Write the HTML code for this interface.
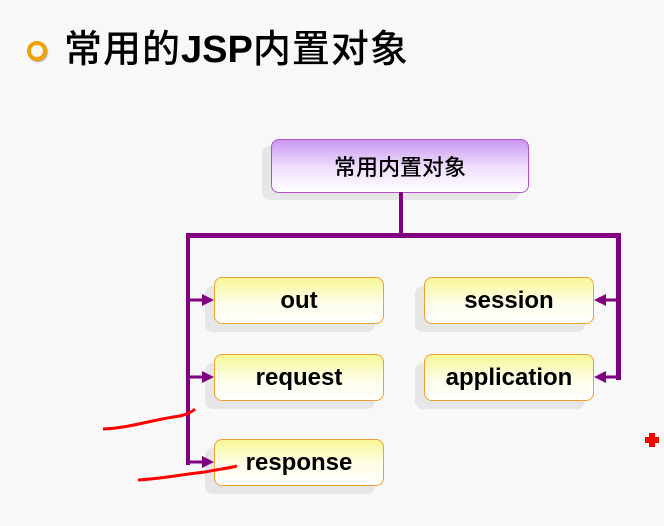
<!DOCTYPE html>
<html><head><meta charset="utf-8"><style>
body{margin:0;width:664px;height:526px;background:#f8f8f8;position:relative;overflow:hidden;font-family:"Liberation Sans","Noto Sans CJK SC",sans-serif}
.t{position:absolute;left:64px;top:27px;font-size:38px;letter-spacing:1px;color:#000;white-space:nowrap;line-height:46px;font-weight:500}
.t b{letter-spacing:0}
.bul{position:absolute;left:27px;top:41px;width:12px;height:12px;border:4px solid #f0a000;border-radius:50%;box-shadow:1px 1px 1px #aaa}
.sh{position:absolute;background:#e6e6e6;border-radius:8px}
.b{position:absolute;box-sizing:border-box;border:1px solid #f0a030;border-radius:8px;background:linear-gradient(#f8f898,#fdfde8 55%,#fff);display:flex;align-items:center;justify-content:center;font-weight:bold;font-size:24px;color:#000}
.top{border-color:#b050d0;background:linear-gradient(#c898f0,#eedcfc 50%,#fff);font-size:22px;font-weight:500}
.l{position:absolute;background:#800080}
</style></head><body>
<div class="bul"></div>
<div class="t">常用的<b>JSP</b>内置对象</div>
<div class="sh" style="left:262px;top:146px;width:258px;height:54px"></div>
<div class="b top" style="left:271px;top:139px;width:258px;height:54px">常用内置对象</div>
<div class="sh" style="left:205px;top:286px;width:170px;height:46px"></div>
<div class="sh" style="left:205px;top:363px;width:170px;height:46px"></div>
<div class="sh" style="left:205px;top:448px;width:170px;height:46px"></div>
<div class="sh" style="left:415px;top:286px;width:170px;height:46px"></div>
<div class="sh" style="left:415px;top:363px;width:170px;height:46px"></div>
<div class="l" style="left:399px;top:192px;width:4px;height:45px"></div>
<div class="l" style="left:186px;top:233px;width:435px;height:5px"></div>
<div class="l" style="left:186px;top:233px;width:4px;height:232px"></div>
<div class="l" style="left:616px;top:233px;width:5px;height:147px"></div>
<svg style="position:absolute;left:0;top:0" width="664" height="526">
<g fill="#800080" stroke="#800080" stroke-width="3">
<line x1="188" y1="300" x2="204" y2="300"/><polygon points="214,300 202,294 202,306" stroke="none"/>
<line x1="188" y1="377" x2="204" y2="377"/><polygon points="214,377 202,371 202,383" stroke="none"/>
<line x1="188" y1="462" x2="204" y2="462"/><polygon points="214,462 202,456 202,468" stroke="none"/>
<line x1="618" y1="300" x2="604" y2="300"/><polygon points="594,300 606,294 606,306" stroke="none"/>
<line x1="618" y1="377" x2="604" y2="377"/><polygon points="594,377 606,371 606,383" stroke="none"/>
</g>
</svg>
<div class="b" style="left:214px;top:277px;width:170px;height:47px">out</div>
<div class="b" style="left:214px;top:354px;width:170px;height:47px">request</div>
<div class="b" style="left:214px;top:439px;width:170px;height:47px">response</div>
<div class="b" style="left:424px;top:277px;width:170px;height:47px">session</div>
<div class="b" style="left:424px;top:354px;width:170px;height:47px">application</div>
<svg style="position:absolute;left:0;top:0" width="664" height="526">
<path d="M103,429 C130,428 150,420 180,416 C188,414 193,411 195,409" stroke="#f00" stroke-width="3" fill="none"/>
<path d="M138,480 C160,479 185,474 205,472 C220,469 230,468 237,466" stroke="#f00" stroke-width="3" fill="none"/>
<path d="M649,433h6v4h4v6h-4v4h-6v-4h-4v-6h4z" fill="#f00"/>
</svg>
</body></html>
